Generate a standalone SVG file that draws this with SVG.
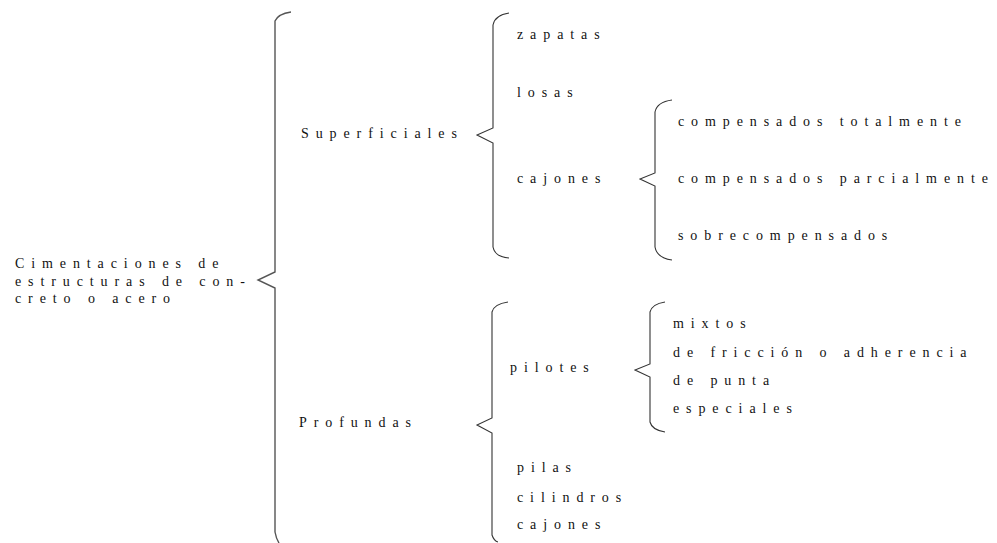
<svg xmlns="http://www.w3.org/2000/svg" width="997" height="543" viewBox="0 0 997 543">
<style>
text{font-family:"Liberation Serif","Times New Roman",serif;font-size:14px;fill:#111;letter-spacing:6.9px}
.brace{fill:none;stroke:#333;stroke-width:1.1;stroke-linejoin:miter}
.main{stroke:#555;stroke-width:1.4}
</style>
<rect width="997" height="543" fill="#fff"/>
<g id="connectors">
<path class="brace main" d="M291,12 Q278,14 275,21 L275,272 L258,280 L275,288 L275,532 Q276,538 279,543"/>
<path class="brace" d="M509,13 Q495,15 493,25 L493,128 L477,135 L493,143 L493,247 Q495,257 509,258"/>
<path class="brace" d="M672,100 Q657,102 655,112 L655,173 L640,179 L655,186 L655,247 Q657,258 672,260"/>
<path class="brace" d="M508,302 Q494,304 492,312 L492,418 L477,425 L492,433 L492,535 Q494,541 498,542"/>
<path class="brace" d="M665,302 Q652,304 650,312 L650,364 L635,370 L650,377 L650,422 Q652,430 665,432"/>
</g>
<g id="root"><text x="15" y="268">Cimentaciones de</text><text x="15" y="286">estructuras de con-</text><text x="15" y="303">creto o acero</text></g>
<g id="superficiales"><text x="301" y="138">Superficiales</text></g>
<g id="zapatas"><text x="517" y="39">zapatas</text></g>
<g id="losas"><text x="517" y="97">losas</text></g>
<g id="cajones1"><text x="517" y="183">cajones</text></g>
<g id="comp-total"><text x="678" y="126">compensados totalmente</text></g>
<g id="comp-parcial"><text x="678" y="183">compensados parcialmente</text></g>
<g id="sobrecomp"><text x="678" y="240">sobrecompensados</text></g>
<g id="profundas"><text x="299" y="427">Profundas</text></g>
<g id="pilotes"><text x="510" y="372">pilotes</text></g>
<g id="mixtos"><text x="673" y="328">mixtos</text></g>
<g id="friccion"><text x="673" y="357">de fricción o adherencia</text></g>
<g id="punta"><text x="673" y="385">de punta</text></g>
<g id="especiales"><text x="673" y="413">especiales</text></g>
<g id="pilas"><text x="517" y="472">pilas</text></g>
<g id="cilindros"><text x="517" y="502">cilindros</text></g>
<g id="cajones2"><text x="517" y="529">cajones</text></g>
</svg>
